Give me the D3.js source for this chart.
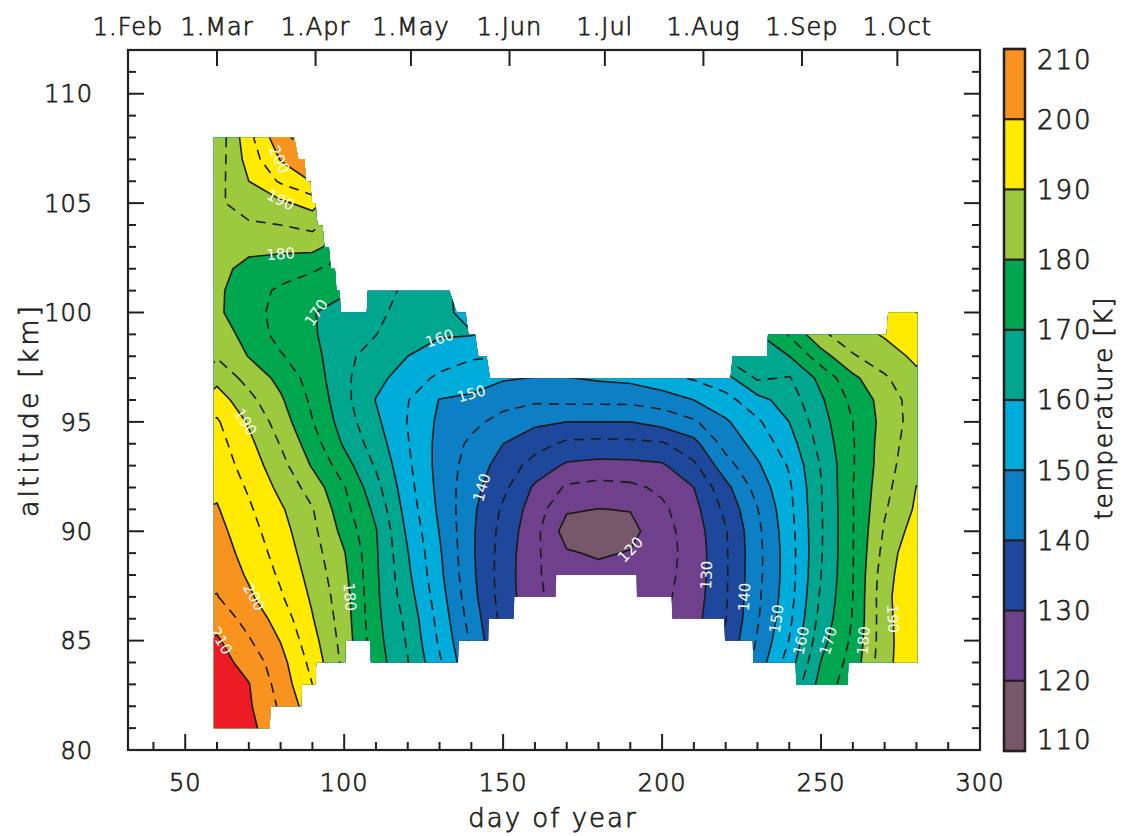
<!DOCTYPE html>
<html><head><meta charset="utf-8">
<script src="https://cdn.jsdelivr.net/npm/d3@7"></script>
<style>
body{margin:0;background:#fff;}
svg text{font-family:"DejaVu Sans","Lato",sans-serif;font-weight:300;fill:#231f20;stroke:#231f20;stroke-width:0.75px;}
svg text.clab{font-weight:400;fill:#ffffff;stroke:none;}
</style></head><body>
<svg id="chart" width="1128" height="836"></svg>
<script>
// ---------------- data ----------------
const days = [60,70,80,90,100,110,120,130,140,150,160,170,180,190,200,210,220,230,240,250,260,270,280];
const altitudes = [81,82,83,84,85,86,87,88,89,90,91,92,93,94,95,96,97,98,99,100,101,102,103,104,105,106,107,108];
// temperature [K]; one array per day, values from 81 km up to 108 km
const t060 = [214.6,214.2,213.2,212,210.7,208,205.2,203.9,202.6,201.6,200.4,199,198,196.9,195.6,192.5,188.5,184.6,182.5,180.7,180.8,181.5,182.3,183.2,184.2,183.2,182.3,181.5];
const t070 = [211.5,210.7,210.2,208.2,205.5,203.2,200.9,199.3,198.1,196.9,195.7,194.4,192.8,191.3,189.4,186.5,183.3,179.8,178.3,177.5,177.5,178.5,181.3,184.4,187.2,190,192,193.5];
const t080 = [206,204.2,202.9,201.8,199.8,197.9,195.6,194.2,193,191.9,190.7,188.7,186.8,184.7,182.6,180.7,178.6,175.5,173.2,172.8,174,177.8,181,185,189,195.7,200.3,203.5];
const t090 = [201,197,195,193.4,191.8,190.3,189.2,188.2,187.2,186.3,185.3,182.9,179.5,177.3,175.2,174,172.8,171.7,170.6,170.2,172.2,175.6,181.5,186.5,191.9,200.3,205,208];
const t100 = [190,187,185,183.6,183,182.5,182,181.2,180.3,178.4,176.7,175.3,172.3,169.3,167.6,166.5,166,166.2,167,168.5,170.5,173,177,181,185,190,194,197];
const t110 = [178,176,174,172.5,171.8,171.3,171,170.8,170.6,170.3,168.7,166.6,164.4,162.5,161,159.8,161.5,163,165.1,166.5,168,170,172,175,178,181,184,187];
const t120 = [171,169,167,165.2,164.4,163.6,162.2,161,160.2,159,157.8,156.8,156,155.3,154.8,155.2,157.5,160,161.5,162.5,163.5,165,167,170,173,176,179,182];
const t130 = [163,161,159,155.7,154.2,153.2,152.2,151.2,150.6,149.8,149,148.5,148.2,148.4,149,149.8,154,157.6,160.5,161.2,162,163,165,167,170,173,176,179];
const t140 = [152,150,148,145.5,144.2,143,141.8,141.2,140.9,140.9,141.2,141.8,142.8,144,146.3,148.9,152.6,155.5,160.3,158.5,157,157.5,158,159,160,161,162,163];
const t150 = [140,138,136.5,135,134,133.3,132.7,132.6,132.8,133.3,134.2,136.2,138,140,143.3,146.8,150.5,155,158,160,162,164,166,168,170,172,174,176];
const t160 = [133,131,129.5,128.5,127.6,126.8,126.3,126,126,126.5,127.5,129.2,133,136.9,141,145.8,149.8,154,157,159,161,163,165,167,169,171,173,175];
const t170 = [128,127,126,125,124,123,122,121.2,120.5,117.8,120.6,124.3,129.2,134,140,146.2,149.8,154,157,159,161,163,165,167,169,171,173,175];
const t180 = [127,126,125,124,123,122,121.5,121.5,119.4,116.5,119.9,123.2,128.5,133.5,140,146.2,150.6,154,157,159,161,163,165,167,169,171,173,175];
const t190 = [128,127,126,125,124,123,122,121.2,120.3,118.5,120.2,123.9,128.6,133.8,140,146.3,151.2,154.5,157.5,159.5,161.5,163.5,165.5,167.5,169.5,171.5,173.5,175.5];
const t200 = [129,128,127,126,125.2,124.4,123.8,123.3,123,123.1,124,126,129.3,134.4,141.8,147.3,153.5,157,159.5,161.5,163.5,165.5,167.5,169.5,171.5,173.5,175.5,177.5];
const t210 = [134,132.5,131,129.7,129,128.3,127.6,127.2,127,127.5,128.4,130,134,138.4,144.3,150,155.5,160,162.5,164.5,166.5,168.5,170.5,172.5,174.5,176.5,178.5,180.5];
const t220 = [140,138.5,137.3,136.6,136,134.8,134.5,134.4,134.4,134.6,136.2,138.5,143,146.8,149.3,153.3,158.2,166,169.5,172,174,176,178,180,182,184,186,188];
const t230 = [150,148.5,147.5,147,145.5,144.5,144,143.6,143.5,143.8,144.8,147,149.3,151.8,154.2,158.3,165.7,168.5,169.6,171.5,173.5,175.5,177.5,179.5,181.5,183.5,185.5,187.5];
const t240 = [166,163,160.5,157.5,155.2,153.8,153,152.6,152.6,153,153.6,154.2,155.5,157.7,160,162.4,164.6,170,175.5,177.5,179,181,183,185,187,189,191,193];
const t250 = [176,174,172,170.2,168.3,166.8,165.8,165,164.6,164.5,164.6,164.8,165.3,166.8,168,169.3,171.4,177.8,184,186,188,190,192,194,196,198,200,202];
const t260 = [180,179,178,177,176,175.3,175,174.8,174.8,174.8,174.8,174.9,174.6,174.6,175,176.3,178.8,184.5,188,191,193,195,197,199,201,203,205,207];
const t270 = [190,189.5,189,188.5,188.2,188.3,188.5,188,186.8,185.6,184.5,183.5,182.8,182.5,181.8,182,184.3,187.8,190.5,193,195,197,199,201,203,205,207,209];
const t280 = [196,195,194.5,194,194.2,194.6,195,194.5,194.5,192.5,190.8,190.1,188.8,187.8,187.3,187.5,188.8,191,193,195,197,199,201,203,205,207,209,211];
const temperature = [t060,t070,t080,t090,t100,t110,t120,t130,t140,t150,t160,t170,t180,t190,t200,t210,t220,t230,t240,t250,t260,t270,t280];

// data coverage (upper and lower edge of the measured region)
const upperDays = [59,84.3,85.6,87.5,88.0,89.3,89.9,91.0,91.6,93.2,93.8,95.2,95.8,97.1,97.6,98.6,98.9,107.1,107.4,133.1,135.4,138.2,139.1,141.2,142.2,144.8,145.9,221.5,222.2,233.0,233.3,270.6,271.1,280.3];
const upperAlts = [108,108,107,107,106,106,105,105,104,104,103,103,102,102,101,101,100,100,101,101,100,100,99,99,98,98,97,97,98,98,99,99,100,100];
const lowerDays = [59,76.6,76.8,86.5,86.7,91.0,91.2,100.3,100.5,108.2,108.4,135.8,136.0,145.3,145.5,153.3,153.5,166.5,166.7,191.9,192.1,203.0,203.2,219.5,219.8,228.5,228.7,242.0,242.2,258.4,258.6,280.3];
const lowerAlts = [81,81,82,82,83,83,84,84,85,85,84,84,85,85,86,86,87,87,88,88,87,87,86,86,85,85,84,84,83,83,84,84];

const bandLevels = [110,120,130,140,150,160,170,180,190,200,210];
const bandColors = ["#77586b","#6f408c","#1d489b","#0d80c5","#00acd9","#00a68d","#00a74e","#9cc93d","#ffea00","#f7931e","#ed1c24"];
const lineLevels = [115,120,125,130,135,140,145,150,155,160,165,170,175,180,185,190,195,200,205,210,215];
const colorbarTicks = [110,120,130,140,150,160,170,180,190,200,210];

const altMajor = [80,85,90,95,100,105,110];
const dayMajor = [50,100,150,200,250,300];
const monthDays = [32,60,91,121,152,182,213,244,274];
const monthLabels = ["1.Feb","1.Mar","1.Apr","1.May","1.Jun","1.Jul","1.Aug","1.Sep","1.Oct"];

const contourLabels = [
  {value:200, day:78.2, alt:107.0},
  {value:190, day:80.9, alt:105.1},
  {value:180, day:81.4, alt:102.7},
  {value:170, day:90.3, alt:100.6},
  {value:160, day:130.1, alt:98.7},
  {value:150, day:141.7, alt:96.7},
  {value:140, day:144.3, alt:91.8},
  {value:120, day:192.0, alt:89.5},
  {value:130, day:214.5, alt:87.5},
  {value:140, day:228.2, alt:86.7},
  {value:150, day:236.0, alt:85.6},
  {value:160, day:243.9, alt:85.0},
  {value:170, day:253.9, alt:84.6},
  {value:180, day:262.8, alt:85.5},
  {value:190, day:272.2, alt:85.6},
  {value:190, day:68.3, alt:95.5},
  {value:200, day:71.4, alt:86.9},
  {value:210, day:64.1, alt:84.8},
  {value:180, day:101.8, alt:86.9}
];

// ---------------- layout ----------------
const svg = d3.select("#chart");
const x = d3.scaleLinear().domain([32,300]).range([128,980]);
const y = d3.scaleLinear().domain([80,112]).range([750,50]);
const ink = "#231f20";

const n = days.length, m = altitudes.length;
const values = new Array(n*m);
for (let j=0;j<m;j++) for (let i=0;i<n;i++) values[j*n+i] = temperature[i][j];
const dStep = days[1]-days[0], aStep = altitudes[1]-altitudes[0];
const gx = cx => x(days[0] + (cx-0.5)*dStep);
const gy = cy => y(altitudes[0] + (cy-0.5)*aStep);
const proj = d3.geoTransform({point:function(cx,cy){ this.stream.point(gx(cx), gy(cy)); }});
const path = d3.geoPath(proj);

const maskPts = upperDays.map((d,i)=>[x(d), y(upperAlts[i])])
  .concat(lowerDays.map((d,i)=>[x(d), y(lowerAlts[i])]).reverse());
svg.append("defs").append("clipPath").attr("id","mask")
  .append("path").attr("d", "M" + maskPts.map(p=>p.join(",")).join("L") + "Z");

const plot = svg.append("g").attr("clip-path","url(#mask)");

const fills = d3.contours().size([n,m]).thresholds(bandLevels)(values);
plot.selectAll("path.band").data(fills).join("path")
  .attr("class","band").attr("d", path)
  .attr("fill", (d,i)=>bandColors[i]).attr("stroke", (d,i)=>bandColors[i]).attr("stroke-width",0.6);

const lines = d3.contours().size([n,m]).thresholds(lineLevels)(values);
plot.selectAll("path.iso").data(lines).join("path")
  .attr("class","iso").attr("d", path)
  .attr("fill","none").attr("stroke", "#1a1a1a")
  .attr("stroke-width", 1.6)
  .attr("stroke-dasharray", d => d.value % 10 === 0 ? null : "10,7");

contourLabels.forEach(lab => {
  const c = lines.find(l => l.value === lab.value);
  if (!c) return;
  const hx = x(lab.day), hy = y(lab.alt);
  let best = null, bd = Infinity;
  c.coordinates.forEach(poly => poly.forEach(ring => {
    const pts = ring.map(p => [gx(p[0]), gy(p[1])]);
    pts.forEach((p,k) => {
      const dd = (p[0]-hx)**2 + (p[1]-hy)**2;
      if (dd < bd) { bd = dd; best = {pts, k}; }
    });
  }));
  if (!best) return;
  const pts = best.pts, k = best.k, L = pts.length;
  const a = pts[(k-1+L)%L], b = pts[(k+1)%L];
  let ang = Math.atan2(b[1]-a[1], b[0]-a[0]) * 180/Math.PI;
  if (ang > 90) ang -= 180; if (ang < -90) ang += 180;
  const px = pts[k][0], py = pts[k][1];
  svg.append("text").attr("class","clab").attr("transform", `translate(${px},${py}) rotate(${ang})`)
    .attr("text-anchor","middle").attr("dy","0.36em")
    .style("font-size","15px").text(lab.value);
});

// ---------------- axes / frame ----------------
const frame = svg.append("g");
frame.append("rect").attr("x",x(32)).attr("y",y(112)).attr("width",x(300)-x(32)).attr("height",y(80)-y(112))
  .attr("fill","none").attr("stroke",ink).attr("stroke-width",2.2);

d3.range(80,112.01,1).forEach(a => {
  const major = altMajor.includes(a);
  const len = major ? 16 : 8;
  frame.append("line").attr("x1",x(32)).attr("x2",x(32)+len).attr("y1",y(a)).attr("y2",y(a)).attr("stroke",ink).attr("stroke-width",2);
  frame.append("line").attr("x1",x(300)).attr("x2",x(300)-len).attr("y1",y(a)).attr("y2",y(a)).attr("stroke",ink).attr("stroke-width",2);
});
altMajor.forEach(a => {
  frame.append("text").attr("x",93).attr("y",y(a)).attr("dy","0.36em").attr("text-anchor","end")
    .style("font-size","24px").style("letter-spacing","1px").text(a);
});
d3.range(40,300.01,10).forEach(d => {
  const major = dayMajor.includes(d);
  const len = major ? 16 : 8;
  frame.append("line").attr("x1",x(d)).attr("x2",x(d)).attr("y1",y(80)).attr("y2",y(80)-len).attr("stroke",ink).attr("stroke-width",2);
});
dayMajor.forEach(d => {
  frame.append("text").attr("x",x(d)).attr("y",791).attr("text-anchor","middle").style("font-size","24px").style("letter-spacing","1px").text(d);
});
monthDays.forEach((d,i) => {
  frame.append("line").attr("x1",x(d)).attr("x2",x(d)).attr("y1",y(112)).attr("y2",y(112)+16).attr("stroke",ink).attr("stroke-width",2);
  frame.append("text").attr("x",x(d)).attr("y",35).attr("text-anchor","middle").style("font-size","24px").style("letter-spacing","1px").text(monthLabels[i]);
});
svg.append("text").attr("x",553).attr("y",827).attr("text-anchor","middle").style("font-size","26px").style("letter-spacing","2px").text("day of year");
svg.append("text").attr("transform","translate(38,410) rotate(-90)").attr("text-anchor","middle").style("font-size","27px").style("letter-spacing","3px").text("altitude [km]");

// ---------------- colorbar ----------------
const cb = svg.append("g");
const yc = d3.scaleLinear().domain([110,210]).range([751,49]);
const cbx = 1004, cbw = 21;
bandLevels.slice(0,-1).forEach((lv,i) => {
  cb.append("rect").attr("x",cbx).attr("y",yc(lv+10)).attr("width",cbw).attr("height",yc(lv)-yc(lv+10)).attr("fill",bandColors[i]);
});
colorbarTicks.forEach(v => {
  cb.append("line").attr("x1",cbx).attr("x2",cbx+cbw).attr("y1",yc(v)).attr("y2",yc(v)).attr("stroke",ink).attr("stroke-width",2.2);
  const ty = Math.max(yc(210)+11, Math.min(yc(110)-11, yc(v)));
  cb.append("text").attr("x",1037).attr("y",ty).attr("dy","0.36em").style("font-size","26px").style("letter-spacing","2px").text(v);
});
cb.append("rect").attr("x",cbx).attr("y",yc(210)).attr("width",cbw).attr("height",yc(110)-yc(210))
  .attr("fill","none").attr("stroke",ink).attr("stroke-width",2.5);
svg.append("text").attr("transform","translate(1112,408) rotate(-90)").attr("text-anchor","middle").style("font-size","25px").style("letter-spacing","1.5px").text("temperature [K]");
</script>
</body></html>
